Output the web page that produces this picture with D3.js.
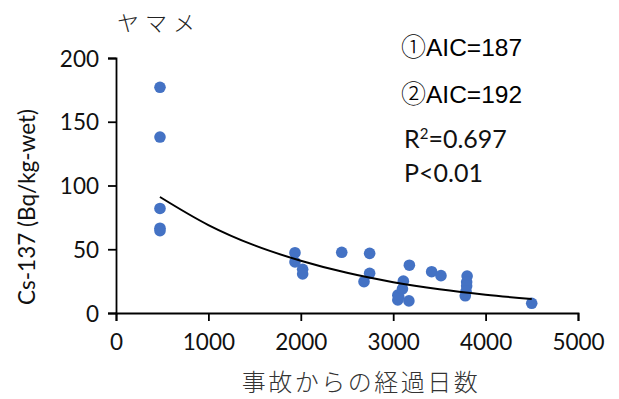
<!DOCTYPE html>
<html>
<head>
<meta charset="utf-8">
<script src="https://cdn.jsdelivr.net/npm/d3@7"></script>
<style>
  body { margin: 0; background: #fff; }
  svg { display: block; }
</style>
</head>
<body>
<figure id="chart" style="margin:0"></figure>
<script>
// days since the accident / Cs-137 (Bq/kg-wet)
const days = [476, 476, 476, 476, 476,
  1937, 1937, 2020, 2020, 2443, 2684, 2745, 2745,
  3050, 3050, 3060, 3100, 3110, 3170, 3175,
  3416, 3517, 3800, 3795, 3795, 3788, 3780, 4499];
const cs137 = [177, 138, 82, 66.5, 64.5,
  47.3, 40, 34.3, 30.6, 47.6, 24.6, 46.8, 31.1,
  10.2, 14, 12.5, 19, 25, 9.5, 37.5,
  32.4, 29.3, 29, 24.3, 21.2, 17, 13.5, 7.6];

// fitted curve at these days
const trendDays = [476, 1000, 1500, 2000, 2500, 3000, 3500, 4000, 4499];
const trendVals = [91, 69, 53, 41, 31.5, 24.2, 18.6, 14.3, 11];

const xTicks = [0, 1000, 2000, 3000, 4000, 5000];
const yTicks = [0, 50, 100, 150, 200];

const noteMarks = ["\u2460", "\u2461"];
const noteTexts = ["AIC=187", "AIC=192"];

const width = 619, height = 399;
const plotL = 116, plotR = 578, plotT = 58, plotB = 313;

const svg = d3.select("#chart").append("svg")
  .attr("width", width)
  .attr("height", height);

const x = d3.scaleLinear().domain([0, 5000]).range([plotL, plotR]);
const y = d3.scaleLinear().domain([0, 200]).range([plotB, plotT]);

const tickFont = "Lato, 'Open Sans', sans-serif";
const jpFont = "'Noto Sans CJK JP', sans-serif";

// axes
const xAxis = svg.append("g")
  .attr("transform", "translate(0," + plotB + ")")
  .call(d3.axisBottom(x).tickValues(xTicks).tickSize(8).tickPadding(8).tickFormat(d3.format("d")));
const yAxis = svg.append("g")
  .attr("transform", "translate(" + plotL + ",0)")
  .call(d3.axisLeft(y).tickValues(yTicks).tickSize(8).tickPadding(9).tickFormat(d3.format("d")));

[xAxis, yAxis].forEach(g => {
  g.select(".domain").attr("stroke", "#000").attr("stroke-width", 1.8);
  g.selectAll(".tick line").attr("stroke", "#000").attr("stroke-width", 1.8);
  g.selectAll("text")
    .attr("fill", "#111")
    .style("font-family", tickFont)
    .style("font-size", "22.5px");
});
yAxis.selectAll("text").attr("dy", "0.36em");
xAxis.selectAll("text").attr("dy", "0.95em");

// points
svg.append("g").selectAll("circle")
  .data(days.map((d, i) => ({ d: d, v: cs137[i] })))
  .enter()
  .append("circle")
  .attr("cx", p => x(p.d))
  .attr("cy", p => y(p.v))
  .attr("r", 5.8)
  .attr("fill", "#4472C4");

// trend line
const line = d3.line()
  .x(d => x(d[0]))
  .y(d => y(d[1]))
  .curve(d3.curveMonotoneX);
svg.append("path")
  .datum(trendDays.map((d, i) => [d, trendVals[i]]))
  .attr("d", line)
  .attr("fill", "none")
  .attr("stroke", "#000")
  .attr("stroke-width", 2);

// axis titles
svg.append("text")
  .attr("transform", "translate(35,207) rotate(-90)")
  .attr("text-anchor", "middle")
  .style("font-family", tickFont)
  .style("font-size", "22.5px")
  .attr("fill", "#111")
  .text("Cs-137 (Bq/kg-wet)");

svg.append("text")
  .attr("x", 361)
  .attr("y", 391)
  .attr("text-anchor", "middle")
  .style("font-family", jpFont)
  .style("font-weight", 300)
  .style("font-size", "24px")
  .style("letter-spacing", "2.5px")
  .attr("fill", "#333")
  .text("事故からの経過日数");

// species name
svg.append("text")
  .attr("x", 117)
  .attr("y", 31)
  .style("font-family", jpFont)
  .style("font-weight", 300)
  .style("font-size", "22px")
  .style("letter-spacing", "6px")
  .attr("fill", "#222")
  .text("ヤマメ");

// model notes
noteTexts.forEach((t, i) => {
  const n = svg.append("text")
    .attr("x", 401)
    .attr("y", 56 + i * 47)
    .attr("fill", "#000");
  n.append("tspan")
    .style("font-family", jpFont)
    .style("font-weight", 300)
    .style("font-size", "25px")
    .text(noteMarks[i]);
  n.append("tspan")
    .style("font-family", "'Liberation Sans', Arial, sans-serif")
    .style("font-size", "24.5px")
    .text(t);
});

const r2 = svg.append("text")
  .attr("x", 404)
  .attr("y", 148)
  .style("font-family", tickFont)
  .style("font-size", "25px")
  .attr("fill", "#111");
r2.append("tspan").text("R");
r2.append("tspan").attr("dy", -9).style("font-size", "15px").text("2");
r2.append("tspan").attr("dy", 9).text("=0.697");

svg.append("text")
  .attr("x", 404)
  .attr("y", 182)
  .style("font-family", tickFont)
  .style("font-size", "25px")
  .attr("fill", "#111")
  .text("P<0.01");
</script>
</body>
</html>
